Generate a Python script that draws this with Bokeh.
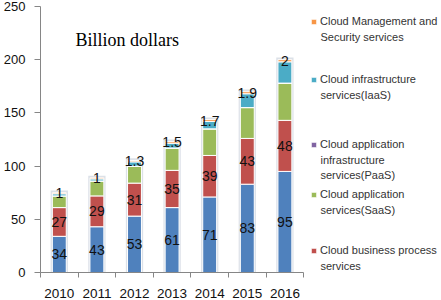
from bokeh.plotting import figure
from bokeh.models import Range1d, FixedTicker, Legend, LegendItem, Label, ColumnDataSource
from bokeh.embed import file_html
from bokeh.resources import INLINE
from bokeh.core.properties import value

# ---------------- data ----------------
years = ["2010", "2011", "2012", "2013", "2014", "2015", "2016"]
series1 = [34, 43, 53, 61, 71, 83, 95]                 # blue (not named in the legend)
business_process = [27, 29, 31, 35, 39, 43, 48]       # red
saas = [11, 14, 16, 21, 25, 29, 35]                   # green
paas = [0, 0, 0, 0, 0, 0, 0]                          # purple
iaas = [2, 2, 4, 4.5, 7, 13, 20]                      # teal
mgmt = [1, 1, 1.3, 1.5, 1.7, 1.9, 2]                  # orange
mgmt_labels = ["1", "1", "1.3", "1.5", "1.7", "1.9", "2"]

legend_names = {
    "mgmt": ["Cloud Management and", "Security services"],
    "iaas": ["Cloud infrastructure", "services(IaaS)"],
    "paas": ["Cloud application", "infrastructure", "services(PaaS)"],
    "saas": ["Cloud application", "services(SaaS)"],
    "bp": ["Cloud business process", "services"],
}

keys = ["s1", "bp", "saas", "paas", "iaas", "mgmt"]
colors = ["#4F81BD", "#C0504D", "#9BBB59", "#8064A2", "#4BACC6", "#F79646"]

xs = [i + 0.5 for i in range(len(years))]
total = [a + b + c + d + e + f for a, b, c, d, e, f in zip(series1, business_process, saas, paas, iaas, mgmt)]
src = ColumnDataSource(dict(
    x=xs, s1=series1, bp=business_process, saas=saas, paas=paas, iaas=iaas, mgmt=mgmt,
    total=total, halo=[t + 2 for t in total],
    y_s1=[v / 2 for v in series1],
    y_bp=[a + b / 2 for a, b in zip(series1, business_process)],
    y_mg=[t - m / 2 for t, m in zip(total, mgmt)],
    l_s1=[str(v) for v in series1],
    l_bp=[str(v) for v in business_process],
    l_mg=mgmt_labels,
))

W, H = 441, 300
LEFT, TOP, BOTTOM = 40, 6, 27
frame_w = W - LEFT
frame_h = H - TOP - BOTTOM
px_per_cat = 37.6

p = figure(width=W, height=H, output_backend="svg", toolbar_location=None,
           x_range=Range1d(0, frame_w / px_per_cat), y_range=Range1d(0, 250),
           min_border_left=LEFT, min_border_right=0, min_border_top=TOP, min_border_bottom=BOTTOM)
p.outline_line_color = None
p.xgrid.visible = False
p.ygrid.visible = False
p.background_fill_color = "white"
p.border_fill_color = "white"

# soft halo behind each bar
p.vbar(x="x", top="halo", bottom=0, width=0.46, source=src, fill_color="#DCE1E8", line_color=None)
rends = p.vbar_stack(keys, x="x", width=0.37, color=colors, line_color="white", line_width=1, source=src)
rmap = dict(zip(keys, rends))

font = value("Liberation Sans")
for ycol, tcol in (("y_s1", "l_s1"), ("y_bp", "l_bp"), ("y_mg", "l_mg")):
    p.text(x="x", y=ycol, text=tcol, source=src, text_align="center", text_baseline="middle",
           text_font=font, text_font_size="14px", text_color="#111111")

# axes
xa = p.xaxis[0]
xa.ticker = FixedTicker(ticks=xs, minor_ticks=list(range(len(years) + 1)))
xa.bounds = (0, len(years))
xa.major_label_overrides = {x: y for x, y in zip(xs, years)}
xa.major_tick_out = 0
xa.major_tick_in = 0
xa.minor_tick_out = 5
xa.minor_tick_in = 0
xa.minor_tick_line_color = "#868686"
xa.axis_line_color = "#868686"
xa.major_label_standoff = 11
xa.major_label_text_font = "Liberation Sans"
xa.major_label_text_font_size = "13.5px"
xa.major_label_text_color = "#111111"

ya = p.yaxis[0]
ya.ticker = FixedTicker(ticks=[0, 50, 100, 150, 200, 250])
ya.axis_line_color = "#868686"
ya.major_tick_line_color = "#868686"
ya.major_tick_out = 6
ya.major_tick_in = 0
ya.minor_tick_line_color = None
ya.major_label_standoff = 9
ya.major_label_text_font = "Liberation Sans"
ya.major_label_text_font_size = "13px"
ya.major_label_text_color = "#111111"

p.add_layout(Label(x=(75 - LEFT) / px_per_cat, y=(273 - 40) * 250 / frame_h, text="Billion dollars",
                   text_font="Liberation Serif", text_font_size="18px", text_color="#000000",
                   text_baseline="alphabetic"))

# legend: one block per entry, first line carries the swatch
SW_X, TXT_X = 310, 320
LH = 15.3
legend_rows = [("mgmt", 22), ("iaas", 80), ("paas", 145), ("saas", 195), ("bp", 251)]
for key, cy in legend_rows:
    lines = legend_names[key]
    lg = Legend(items=[LegendItem(label=lines[0], renderers=[rmap[key]])],
                location=(SW_X - LEFT, frame_h - (cy - TOP) - 7.5),
                border_line_color=None, background_fill_alpha=0, padding=0, margin=0, spacing=0,
                glyph_width=7, glyph_height=7, label_height=15, label_standoff=TXT_X - SW_X - 7,
                label_text_font="Liberation Sans", label_text_font_size="11px", label_text_color="#333333")
    p.add_layout(lg)
    for k, line in enumerate(lines[1:], start=1):
        p.add_layout(Label(x=TXT_X - LEFT, y=frame_h - (cy + LH * k - TOP), x_units="screen", y_units="screen",
                           text=line, text_baseline="middle", text_font="Liberation Sans",
                           text_font_size="11px", text_color="#333333"))

open("out.html", "w").write(file_html(p, INLINE))
